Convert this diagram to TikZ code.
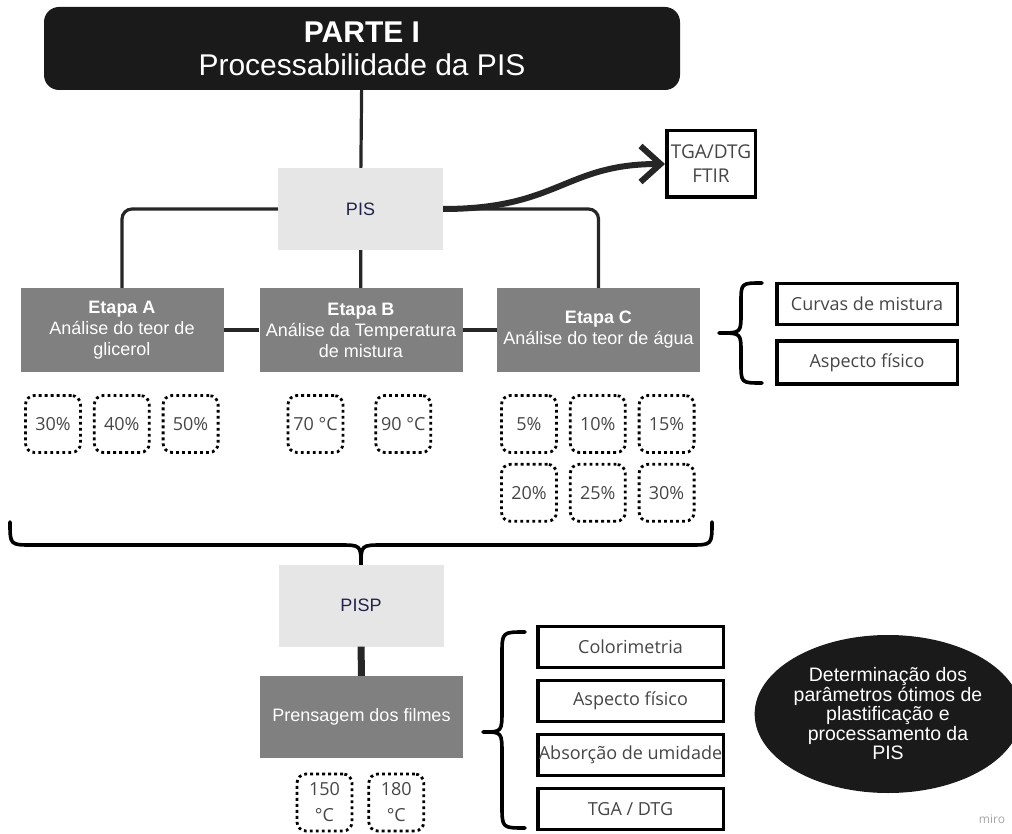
\documentclass[tikz,border=0pt]{standalone}
\usepackage{fontspec}
\setmainfont{Liberation Sans}
\newfontfamily\opensans{Open Sans}
\usepackage{tikz}
\usetikzlibrary{arrows.meta,positioning,shapes.geometric}
\definecolor{coal}{RGB}{26,26,26}
\definecolor{stagegray}{RGB}{128,128,128}
\definecolor{fog}{RGB}{230,230,230}
\definecolor{deepnavy}{RGB}{35,35,75}
\definecolor{wire}{RGB}{38,38,38}
\definecolor{slate}{RGB}{70,70,70}
\tikzset{
  header/.style   = {rounded corners=15pt, fill=coal, text=white, align=center,
                     minimum width=636pt, minimum height=83pt, inner sep=0pt,
                     font=\fontsize{30}{33}\selectfont},
  sample/.style   = {fill=fog, text=deepnavy, minimum width=165pt, minimum height=82pt,
                     inner sep=0pt, font=\fontsize{18}{20}\selectfont},
  stagebox/.style = {fill=stagegray, text=white, align=center, minimum width=203pt,
                     minimum height=84pt, inner sep=0pt, font=\fontsize{18}{21}\selectfont},
  testbox/.style  = {draw=black, line width=3.5pt, fill=white, text=slate,
                     minimum width=180.5pt, minimum height=41pt, inner sep=0pt,
                     font=\opensans\fontsize{18}{22}\selectfont},
  dosebox/.style  = {draw=black, line width=2.8pt, dash pattern=on 2.8pt off 3.2pt,
                     rounded corners=9pt, minimum width=55pt, minimum height=57pt,
                     inner sep=0pt, align=center, text=slate,
                     font=\opensans\fontsize{18}{26}\selectfont},
  link/.style     = {draw=wire, line width=3.2pt},
  curly/.style    = {draw=black, line width=3.6pt, line cap=round, line join=round},
}

\begin{document}
\begin{tikzpicture}[x=1pt, y=-1pt]
\useasboundingbox (0,0) rectangle (1012,834);
% top part
\node[header] (title) at (362,48.5) {\textbf{PARTE I}\\Processabilidade da PIS};
\node[sample] (pis) at (360.5,209) {PIS};
\node[testbox, minimum width=88.5pt, minimum height=66.5pt, align=center,
      font=\opensans\fontsize{19}{24}\selectfont] (tga) at (711,164) {TGA/DTG\\FTIR};
\node[stagebox] (etapaA) at (122,330) {\textbf{Etapa A}\\Análise do teor de\\glicerol};
\node[stagebox] (etapaB) at (361,330) {\textbf{Etapa B}\\Análise da Temperatura\\de mistura};
\node[stagebox] (etapaC) at (598.5,330) {\textbf{Etapa C}\\Análise do teor de água};
\node[testbox] (curvas) at (867,304) {Curvas de mistura};
\node[testbox, minimum height=43pt, below=13pt of curvas] (aspecto) {Aspecto físico};

\draw[link] (title) -- (pis);
\draw[link, rounded corners=10pt] (pis.west) -| (etapaA.north);
\draw[link, rounded corners=10pt] (pis.east) -| (etapaC.north);
\draw[link] (pis) -- (etapaB);
\draw[link, line width=4pt] (etapaA) -- (etapaB);
\draw[link, line width=4pt] (etapaB) -- (etapaC);
\draw[draw=wire, line width=6pt, -{Straight Barb[length=20pt,width=36pt]}]
  (pis.east) .. controls +(115,0) and +(-100,0) .. (tga.west);

% dotted levels
\node[dosebox] (gli30) at (53,424) {30\%};
\node[dosebox, right=11pt of gli30] (gli40) {40\%};
\node[dosebox, right=11pt of gli40] (gli50) {50\%};
\node[dosebox] (tmp70) at (315.5,424) {70 °C};
\node[dosebox, right=30pt of tmp70] (tmp90) {90 °C};
\node[dosebox] (agu05) at (529,424) {5\%};
\node[dosebox, right=11pt of agu05] (agu10) {10\%};
\node[dosebox, right=11pt of agu10] (agu15) {15\%};
\node[dosebox, below=9pt of agu05] (agu20) {20\%};
\node[dosebox, below=9pt of agu10] (agu25) {25\%};
\node[dosebox, below=9pt of agu15] (agu30) {30\%};

% braces
\draw[curly] (762,283) .. controls (741,283) .. (741,303) -- (741,313)
  .. controls (741,333) .. (719,333) .. controls (741,333) .. (741,353)
  -- (741,363) .. controls (741,383) .. (762,383);
\draw[curly] (10,522) .. controls (10,545) .. (32,545) -- (339,545)
  .. controls (361,545) .. (361,566) .. controls (361,545) .. (383,545)
  -- (690,545) .. controls (712,545) .. (712,522);

% bottom part
\node[sample] (pisp) at (361,605.5) {PISP};
\node[stagebox, minimum height=82pt] (prensa) at (361.5,717) {Prensagem dos filmes};
\draw[link, line width=7pt] (pisp) -- (prensa);
\node[dosebox] (pre150) at (324.5,802.5) {150\\°C};
\node[dosebox, right=14pt of pre150] (pre180) {180\\°C};

\node[testbox, minimum width=185.5pt] (color) at (630.5,647) {Colorimetria};
\node[testbox, minimum width=185.5pt, below=9.5pt of color] (fisico) {Aspecto físico};
\node[testbox, minimum width=185.5pt, below=9.5pt of fisico] (umidade) {Absorção de umidade};
\node[testbox, minimum width=185.5pt, below=9.5pt of umidade] (tgadtg) {TGA / DTG};
\draw[curly] (525,632) .. controls (502,632) .. (502,655) -- (502,709)
  .. controls (502,732) .. (483,732) .. controls (502,732) .. (502,755)
  -- (502,805) .. controls (502,828) .. (525,828);

\node[ellipse, fill=coal, text=white, align=center, minimum width=244pt,
      minimum height=158pt, inner sep=0pt, font=\fontsize{19.5}{19.5}\selectfont]
  (goal) at (888,714) {Determinação dos\\parâmetros ótimos de\\plastificação e\\processamento da\\PIS};
\node[text=black!35, font=\opensans\fontsize{12}{12}\selectfont] (miro) at (992,819) {miro};
\end{tikzpicture}
\end{document}
